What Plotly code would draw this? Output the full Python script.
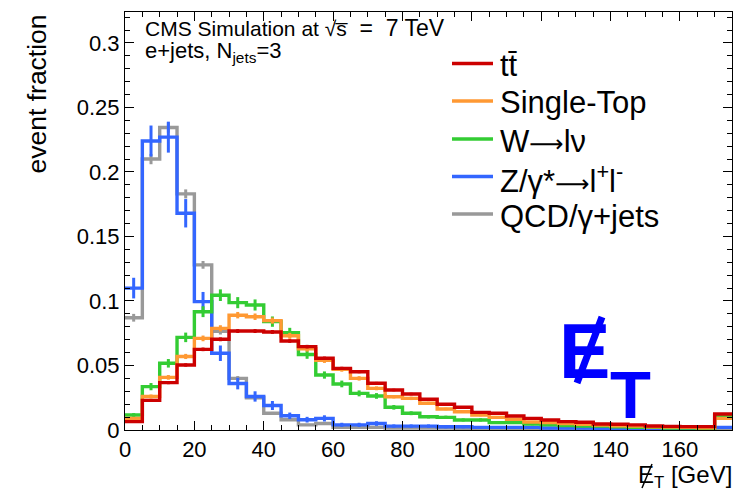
import plotly.graph_objects as go

# ---------------- data ----------------
bin_edges = [5 * i for i in range(36)]  # 0..175 GeV, 5 GeV bins

ttbar = [0.0065, 0.023, 0.0367, 0.0504, 0.0625, 0.0703, 0.0767, 0.0767, 0.076, 0.069,
         0.0646, 0.0556, 0.0478, 0.0452, 0.0362, 0.031, 0.0279, 0.0238, 0.020, 0.0176,
         0.0137, 0.013, 0.0109, 0.009, 0.0078, 0.0065, 0.006, 0.0046, 0.0044, 0.004,
         0.0031, 0.0028, 0.0026, 0.0026, 0.0124]
single_top = [0.009, 0.026, 0.0408, 0.057, 0.071, 0.0788, 0.089, 0.0878, 0.0848, 0.073,
              0.063, 0.054, 0.047, 0.040, 0.0323, 0.0258, 0.0245, 0.0207, 0.0163, 0.0142,
              0.0116, 0.0098, 0.0083, 0.0062, 0.0058, 0.005, 0.0045, 0.0038, 0.0033, 0.003,
              0.0025, 0.0022, 0.002, 0.0018, 0.009]
wjets = [0.0116, 0.0336, 0.0517, 0.0718, 0.0917, 0.1045, 0.0987, 0.0969, 0.084, 0.0755,
         0.0585, 0.0426, 0.0357, 0.0284, 0.0264, 0.0176, 0.013, 0.0103, 0.0098, 0.0078,
         0.0078, 0.0057, 0.0057, 0.0046, 0.004, 0.0035, 0.003, 0.003, 0.0025, 0.002,
         0.002, 0.0015, 0.0015, 0.001, 0.011]
zjets = [0.110, 0.224, 0.227, 0.168, 0.0995, 0.0595, 0.036, 0.026, 0.019, 0.011,
         0.008, 0.009, 0.004, 0.004, 0.005, 0.003, 0.003, 0.003, 0.0025, 0.0025,
         0.002, 0.002, 0.002, 0.002, 0.0015, 0.0015, 0.0015, 0.0012, 0.0012, 0.001,
         0.001, 0.001, 0.001, 0.001, 0.002]
qcd = [0.087, 0.210, 0.2345, 0.183, 0.128, 0.0765, 0.040, 0.025, 0.013, 0.008,
       0.004, 0.005, 0.002, 0.002, 0.002, 0.0015, 0.0015, 0.0015, 0.0015, 0.001,
       0.001, 0.001, 0.001, 0.001, 0.001, 0.001, 0.001, 0.001, 0.001, 0.001,
       0.001, 0.001, 0.001, 0.001, 0.001]

ttbar_err = [0.0005, 0.001, 0.0012, 0.0013, 0.0014, 0.0015, 0.0015, 0.0015, 0.0015, 0.0014,
             0.0014, 0.0013, 0.0012, 0.0012, 0.0011, 0.001, 0.001, 0.0009, 0.0008, 0.0008,
             0.0007, 0.0007, 0.0006, 0.0006, 0.0005, 0.0005, 0.0005, 0.0004, 0.0004, 0.0004,
             0.0003, 0.0003, 0.0003, 0.0003, 0.0006]
single_top_err = [0.0008, 0.0015, 0.0018, 0.002, 0.0022, 0.0024, 0.0025, 0.0025, 0.0024, 0.0023,
                  0.0022, 0.002, 0.0018, 0.0017, 0.0015, 0.0013, 0.0013, 0.0012, 0.001, 0.001,
                  0.0009, 0.0008, 0.0007, 0.0006, 0.0006, 0.0006, 0.0005, 0.0005, 0.0005, 0.0004,
                  0.0004, 0.0004, 0.0004, 0.0003, 0.0008]
wjets_err = [0.0015, 0.0028, 0.0033, 0.0037, 0.0042, 0.0045, 0.0043, 0.0043, 0.004, 0.0037,
             0.0033, 0.0028, 0.0026, 0.0023, 0.0022, 0.0018, 0.0015, 0.0013, 0.0013, 0.0012,
             0.0012, 0.001, 0.001, 0.0009, 0.0008, 0.0008, 0.0007, 0.0007, 0.0006, 0.0006,
             0.0006, 0.0005, 0.0005, 0.0004, 0.0014]
zjets_err = [0.008, 0.012, 0.012, 0.011, 0.0075, 0.006, 0.0045, 0.004, 0.0035, 0.0025,
             0.0022, 0.0024, 0.0016, 0.0016, 0.0018, 0.0013, 0.0013, 0.0013, 0.0012, 0.0012,
             0.001, 0.001, 0.001, 0.001, 0.0009, 0.0009, 0.0009, 0.0008, 0.0008, 0.0007,
             0.0007, 0.0007, 0.0007, 0.0007, 0.001]
qcd_err = [0.003, 0.004, 0.004, 0.0035, 0.003, 0.0025, 0.0018, 0.0014, 0.001, 0.0008,
           0.0006, 0.0007, 0.0004, 0.0004, 0.0004, 0.0003, 0.0003, 0.0003, 0.0003, 0.0002,
           0.0002, 0.0002, 0.0002, 0.0002, 0.0002, 0.0002, 0.0002, 0.0002, 0.0002, 0.0002,
           0.0002, 0.0002, 0.0002, 0.0002, 0.0002]

ARROW = "<span style='font-family:DejaVu Sans;font-size:24px'>\u27f6</span>"
legend_labels = ["t\u0074\u0304", "Single-Top", "W" + ARROW + "l\u03bd",
                 "Z/\u03b3*" + ARROW + "l<sup>+</sup>l<sup>-</sup>", "QCD/\u03b3+jets"]
x_ticks = [0, 20, 40, 60, 80, 100, 120, 140, 160]
y_ticks = [0, 0.05, 0.1, 0.15, 0.2, 0.25, 0.3]

# ---------------- styling ----------------
FONT = "Liberation Sans, Arial, Helvetica, sans-serif"
colors = {
    "ttbar": "#cc0000",
    "single_top": "#ff9933",
    "wjets": "#33cc33",
    "zjets": "#3366ff",
    "qcd": "#999999",
}

series = {
    "ttbar": (ttbar, ttbar_err),
    "single_top": (single_top, single_top_err),
    "wjets": (wjets, wjets_err),
    "zjets": (zjets, zjets_err),
    "qcd": (qcd, qcd_err),
}
draw_order = ["qcd", "zjets", "wjets", "single_top", "ttbar"]
legend_order = ["ttbar", "single_top", "wjets", "zjets", "qcd"]

centers = [(bin_edges[i] + bin_edges[i + 1]) / 2 for i in range(len(bin_edges) - 1)]

fig = go.Figure()
for key in draw_order:
    vals, errs = series[key]
    col = colors[key]
    fig.add_trace(go.Scatter(
        x=bin_edges, y=vals + [vals[-1]], mode="lines",
        line=dict(color=col, width=3.4, shape="hv"),
        showlegend=False, hoverinfo="skip"))
    fig.add_trace(go.Scatter(
        x=centers, y=vals, mode="markers",
        marker=dict(size=1, color=col, opacity=0),
        error_y=dict(type="data", array=errs, width=0, thickness=3, color=col),
        showlegend=False, hoverinfo="skip"))

# ---------------- layout ----------------
L, R, T, B = 125, 15, 12, 67
W, H = 747, 497
pw, ph = W - L - R, H - T - B


def px(x):
    return (x - L) / pw


def py(y):
    return (H - B - y) / ph


annotations = []
shapes = []
legend_y = [63.5, 101, 139, 176.5, 214]
for key, lab, ly in zip(legend_order, legend_labels, legend_y):
    shapes.append(dict(type="line", xref="paper", yref="paper",
                       x0=px(452), x1=px(493), y0=py(ly), y1=py(ly),
                       line=dict(color=colors[key], width=3.4)))
    annotations.append(dict(text=lab, xref="paper", yref="paper",
                            x=px(498), y=py(ly + 2), xanchor="left", yanchor="middle",
                            showarrow=False, font=dict(family=FONT, size=31, color="black")))

NB = "\u00a0"
annotations += [
    dict(text="CMS Simulation at \u221as\u0305<span style='font-size:23px'>" + NB * 2 + "="
              + NB * 2 + "7 TeV</span>",
         xref="paper", yref="paper",
         x=px(143), y=py(28), xanchor="left", yanchor="middle", showarrow=False,
         font=dict(family=FONT, size=21, color="black")),
    dict(text="e+jets, N<sub>jets</sub>=3", xref="paper", yref="paper",
         x=px(143), y=py(51.5), xanchor="left", yanchor="middle", showarrow=False,
         font=dict(family=FONT, size=22, color="black")),
    dict(text="event fraction", xref="paper", yref="paper", textangle=-90,
         x=px(37), y=py(13), xanchor="center", yanchor="top", showarrow=False,
         font=dict(family=FONT, size=26.5, color="black")),
    dict(text="E<sub>T</sub> [GeV]", xref="paper", yref="paper",
         x=px(734), y=py(476), xanchor="right", yanchor="middle", showarrow=False,
         font=dict(family=FONT, size=24, color="black")),
    # big blue MET label
    dict(text="<b>E</b>", xref="paper", yref="paper",
         x=px(584), y=py(351), xanchor="center", yanchor="middle", showarrow=False,
         font=dict(family="Liberation Sans Narrow, " + FONT, size=77, color="#0000ff")),
    dict(text="<b>T</b>", xref="paper", yref="paper",
         x=px(630), y=py(394), xanchor="center", yanchor="middle", showarrow=False,
         font=dict(family=FONT, size=67, color="#0000ff")),
]

# slashes of the "missing" E symbols
shapes += [
    dict(type="line", xref="paper", yref="paper",
         x0=px(577), y0=py(383), x1=px(602), y1=py(317),
         line=dict(color="#0000ff", width=7)),
    dict(type="line", xref="paper", yref="paper",
         x0=px(642), y0=py(488), x1=px(652), y1=py(464),
         line=dict(color="black", width=1.5)),
]

axis_common = dict(
    showgrid=False, zeroline=False, showline=True, linecolor="black", linewidth=1,
    mirror="ticks", ticks="inside", ticklen=9, tickwidth=1, tickcolor="black",
    tickfont=dict(family=FONT, size=22, color="black"),
)

fig.update_layout(
    width=W, height=H,
    margin=dict(l=L, r=R, t=T, b=B, pad=0),
    paper_bgcolor="white", plot_bgcolor="white",
    showlegend=False,
    annotations=annotations, shapes=shapes,
    xaxis=dict(range=[0, 175], tickvals=x_ticks, ticktext=[str(v) for v in x_ticks],
               minor=dict(dtick=5, tick0=0, ticks="inside", ticklen=5, tickcolor="black"),
               **axis_common),
    yaxis=dict(range=[0, 0.324], tickvals=y_ticks, ticktext=[f"{v:g}" for v in y_ticks],
               minor=dict(dtick=0.01, tick0=0, ticks="inside", ticklen=5, tickcolor="black"),
               **axis_common),
)

fig.write_html("out.html")
